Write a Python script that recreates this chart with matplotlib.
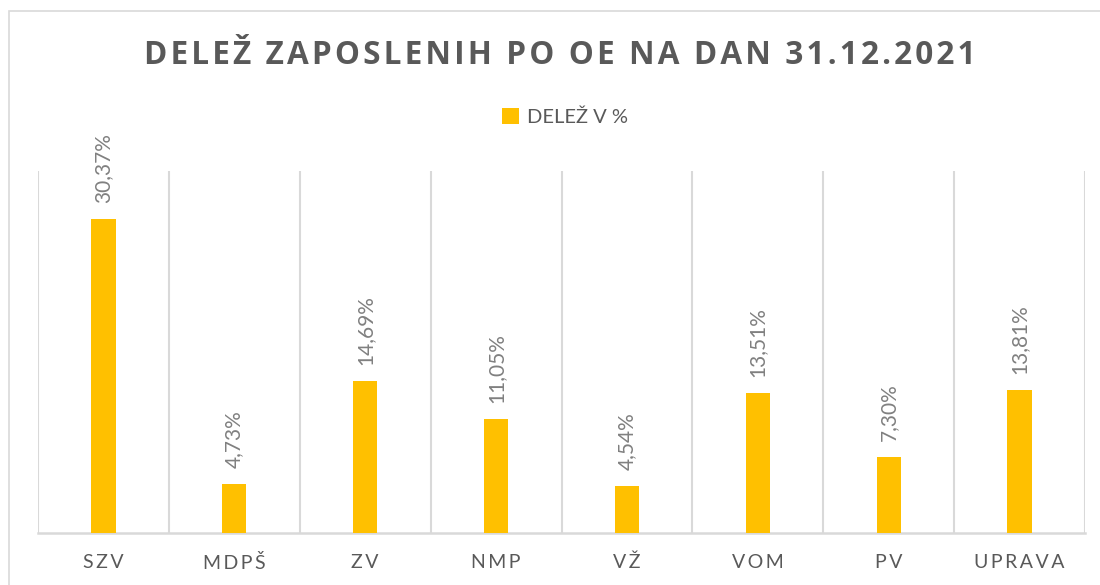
import matplotlib
matplotlib.use("Agg")
import matplotlib.pyplot as plt
from matplotlib.patches import Rectangle

# data
categories = ['SZV', 'MDPŠ', 'ZV', 'NMP', 'VŽ', 'VOM', 'PV', 'UPRAVA']
shares = [30.37, 4.73, 14.69, 11.05, 4.54, 13.51, 7.30, 13.81]
series_name = 'DELEŽ V %'
title = 'DELEŽ ZAPOSLENIH PO OE NA DAN 31.12.2021'

BAR = '#FFC000'
GRID = '#D9D9D9'
TXT = '#595959'
LBL = '#808080'
FONT = ['Lato', 'DejaVu Sans']


def spaced(s, sep='\u2009'):
    # crude letter spacing, Excel style
    return sep.join(s)


fig = plt.figure(figsize=(11, 5.85), dpi=100)

# chart frame (only top and left edges are visible in the crop)
fig.patches.append(Rectangle((9 / 1100, -0.1), 1.2, 1 - 11 / 585 + 0.1,
                             transform=fig.transFigure, fill=False,
                             edgecolor=GRID, linewidth=1.2))

ax = fig.add_axes([38 / 1100, 1 - 533 / 585, (1085 - 38) / 1100, (533 - 171) / 585])
x = range(len(categories))
bars = ax.bar(x, shares, width=0.185, color=BAR, zorder=3, label=series_name)

ax.set_xlim(-0.5, len(categories) - 0.5)
ax.set_ylim(0, 35)
ax.set_yticks([])
ax.set_xticks(list(x))
ax.set_xticklabels([spaced(c) for c in categories], fontsize=14, color=TXT, family=FONT)
ax.tick_params(axis='x', length=0, pad=15)
ax.set_xticks([i - 0.5 for i in range(len(categories) + 1)], minor=True)
ax.tick_params(axis='x', which='minor', length=0)
ax.grid(axis='x', which='minor', color=GRID, linewidth=1.5)
for side in ['top', 'left', 'right']:
    ax.spines[side].set_visible(False)
ax.spines['bottom'].set_color(GRID)
ax.spines['bottom'].set_linewidth(1.8)

for bar, v in zip(bars, shares):
    ax.annotate(f'{v:.2f}%'.replace('.', ','),
                xy=(bar.get_x() + bar.get_width() / 2, bar.get_height()),
                xytext=(0, 16), textcoords='offset pixels',
                rotation=90, ha='center', va='bottom',
                fontsize=15, color=LBL, family=FONT)

fig.text(0.5085, 1 - 55 / 585, spaced(title, '\u200a'), ha='center', va='center',
         fontsize=22.7, fontweight='bold', color=TXT, family=['Open Sans', 'DejaVu Sans'])

leg = fig.legend(handles=[bars], labels=[series_name], loc='center',
                 bbox_to_anchor=(565 / 1100, 1 - 117 / 585), frameon=False,
                 prop={'family': FONT, 'size': 14.5}, handlelength=0.8, handleheight=0.8,
                 handletextpad=0.4, labelcolor=TXT)

plt.savefig('out.png', dpi=100)
